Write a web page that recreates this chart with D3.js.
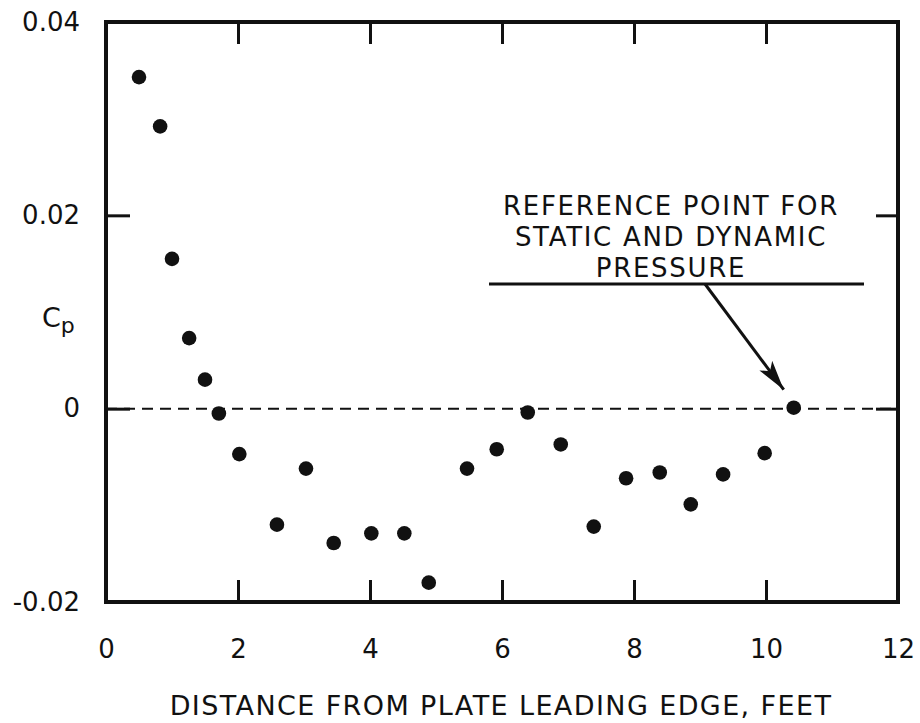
<!DOCTYPE html>
<html>
<head>
<meta charset="utf-8">
<script src="https://cdn.jsdelivr.net/npm/d3@7"></script>
<style>
  html, body { margin: 0; padding: 0; background: #fff; }
  text { font-family: "DejaVu Sans", "Open Sans", sans-serif; fill: #111; }
</style>
</head>
<body>
<div id="grafico"></div>
<script>
// datos (distancia en pies, Cp)
const distancia = [0.50, 0.82, 1.00, 1.26, 1.50, 1.71, 2.02, 2.59, 3.03, 3.45, 4.02, 4.52,
  4.89, 5.47, 5.92, 6.39, 6.89, 7.39, 7.88, 8.39, 8.86, 9.35, 9.98, 10.42];
const cp = [0.0343, 0.0292, 0.0155, 0.0073, 0.0030, -0.0005, -0.0047, -0.0120, -0.0062, -0.0139,
  -0.0129, -0.0129, -0.0180, -0.0062, -0.0042, -0.0004, -0.0037, -0.0122, -0.0072, -0.0066,
  -0.0099, -0.0068, -0.0046, 0.0001];
const ticksX = [0, 2, 4, 6, 8, 10, 12];
const ticksY = [0.04, 0.02, 0, -0.02];
const etiquetasY = ["0.04", "0.02", "0", "-0.02"];
const nota = ["REFERENCE POINT FOR", "STATIC AND DYNAMIC", "PRESSURE"];
const indiceReferencia = 23;

const ancho = 920, alto = 723;
const izq = 106, der = 898, arriba = 22, abajo = 602;
const fuente = "'DejaVu Sans', sans-serif";

const x = d3.scaleLinear().domain([0, 12]).range([izq, der]);
const y = d3.scaleLinear().domain([-0.02, 0.04]).range([abajo, arriba]);

const $svg = d3.select("#grafico")
  .append("svg")
  .attr("width", ancho)
  .attr("height", alto);

// LINEA DE CERO PUNTEADA
$svg.append("line")
  .attr("x1", x(0)).attr("x2", x(12))
  .attr("y1", y(0)).attr("y2", y(0))
  .attr("stroke", "#111")
  .attr("stroke-width", 2)
  .attr("stroke-dasharray", "11 7");

// MARCAS INTERNAS
const interiores = [
  d3.axisBottom(x).tickValues([2, 4, 6, 8, 10]).tickSize(-22),
  d3.axisTop(x).tickValues([2, 4, 6, 8, 10]).tickSize(-22),
  d3.axisLeft(y).tickValues([0.02, 0]).tickSize(-24),
  d3.axisRight(y).tickValues([0.02, 0]).tickSize(-22)
];
const posiciones = [`translate(0,${abajo})`, `translate(0,${arriba})`,
  `translate(${izq},0)`, `translate(${der},0)`];

interiores.forEach((eje, i) => {
  const g = $svg.append("g")
    .attr("transform", posiciones[i])
    .call(eje.tickFormat(""));
  g.select(".domain").remove();
  g.selectAll(".tick line").attr("stroke", "#111").attr("stroke-width", 3);
});

// MARCO
$svg.append("rect")
  .attr("x", izq).attr("y", arriba)
  .attr("width", der - izq).attr("height", abajo - arriba)
  .attr("fill", "none")
  .attr("stroke", "#111")
  .attr("stroke-width", 4);

// ETIQUETAS DE LOS EJES
const ejeX = $svg.append("g")
  .attr("transform", `translate(0,${abajo})`)
  .call(d3.axisBottom(x).tickValues(ticksX).tickSize(0).tickPadding(38).tickFormat(d3.format("d")));
ejeX.select(".domain").remove();
ejeX.selectAll("text")
  .attr("font-size", 26)
  .attr("fill", "#111")
  .style("font-family", fuente);

const ejeY = $svg.append("g")
  .attr("transform", `translate(${izq},0)`)
  .call(d3.axisLeft(y).tickValues(ticksY).tickSize(0).tickPadding(26)
    .tickFormat((d, i) => etiquetasY[i]));
ejeY.select(".domain").remove();
ejeY.selectAll("text")
  .attr("font-size", 26)
  .attr("fill", "#111")
  .style("font-family", fuente);

$svg.append("text")
  .attr("x", 501)
  .attr("y", 715)
  .attr("font-size", 27)
  .attr("letter-spacing", 1.4)
  .style("text-anchor", "middle")
  .text("DISTANCE FROM PLATE LEADING EDGE, FEET");

const etiquetaCp = $svg.append("text")
  .attr("x", 42)
  .attr("y", 327)
  .attr("font-size", 27);
etiquetaCp.append("tspan").text("C");
etiquetaCp.append("tspan").attr("font-size", 22).attr("dy", 6).text("p");

// PUNTOS
$svg.append("g")
  .selectAll("circle")
  .data(distancia.map((d, i) => [d, cp[i]]))
  .join("circle")
  .attr("cx", d => x(d[0]))
  .attr("cy", d => y(d[1]))
  .attr("r", 7.3)
  .attr("fill", "#111");

// NOTA Y FLECHA
const textoNota = $svg.append("g");
nota.forEach((linea, i) => {
  textoNota.append("text")
    .attr("x", 671)
    .attr("y", 215 + i * 31)
    .attr("font-size", 26)
    .attr("letter-spacing", 1.7)
    .style("text-anchor", "middle")
    .text(linea);
});

$svg.append("line")
  .attr("x1", 489).attr("x2", 864)
  .attr("y1", 284).attr("y2", 284)
  .attr("stroke", "#111")
  .attr("stroke-width", 3);

$svg.append("defs").append("marker")
  .attr("id", "punta")
  .attr("viewBox", "0 0 30 16")
  .attr("refX", 30).attr("refY", 8)
  .attr("markerWidth", 30).attr("markerHeight", 16)
  .attr("markerUnits", "userSpaceOnUse")
  .attr("orient", "auto")
  .append("path")
  .attr("d", "M0,0 L30,8 L0,16 L7,8 Z")
  .attr("fill", "#111");

const px = x(distancia[indiceReferencia]), py = y(cp[indiceReferencia]);
$svg.append("line")
  .attr("x1", 705).attr("y1", 284)
  .attr("x2", px - 10).attr("y2", py - 18)
  .attr("stroke", "#111")
  .attr("stroke-width", 3)
  .attr("marker-end", "url(#punta)");
</script>
</body>
</html>
